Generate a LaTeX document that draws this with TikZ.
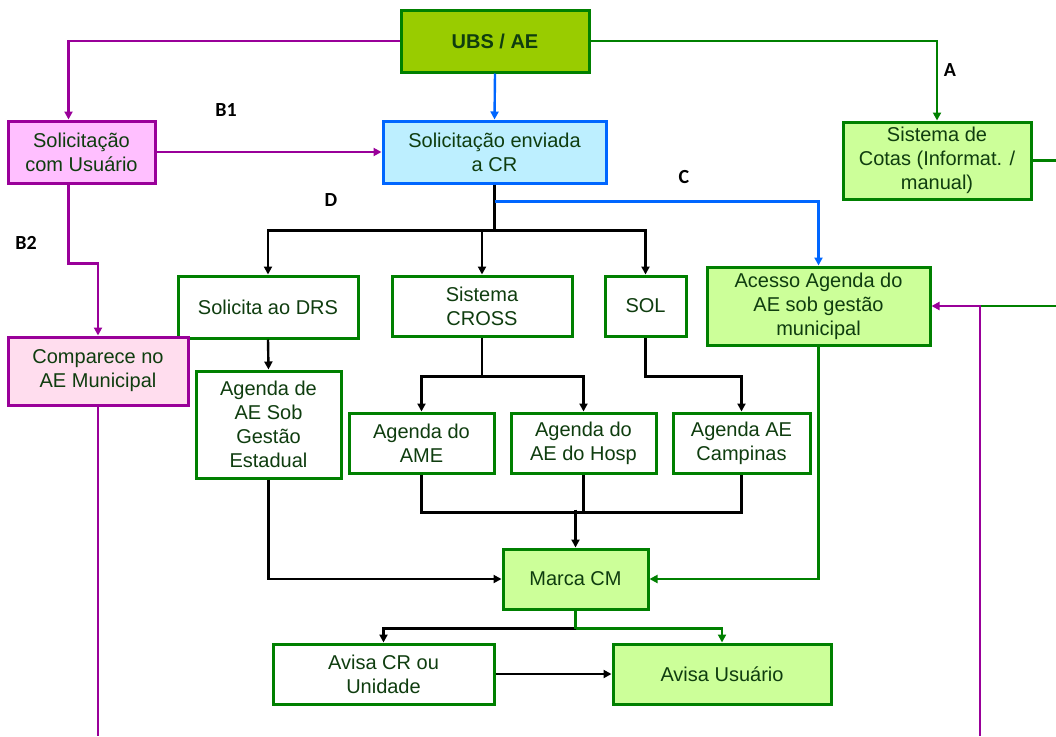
\documentclass[tikz,border=0pt]{standalone}
\usepackage{fontspec}
\setmainfont{Liberation Sans}
\newfontfamily\labelfont{Carlito}
\usetikzlibrary{
  arrows.meta,
  positioning,
  calc,
}
\definecolor{ink}{HTML}{0F3D0F}
\definecolor{tagInk}{HTML}{000000}
\definecolor{greenStroke}{HTML}{008000}
\definecolor{ubsFill}{HTML}{99CC00}
\definecolor{lightGreen}{HTML}{CCFF99}
\definecolor{crFill}{HTML}{BDEFFF}
\definecolor{crStroke}{HTML}{0066FF}
\definecolor{usrFill}{HTML}{FFBFFF}
\definecolor{aeFill}{HTML}{FFDDEE}
\definecolor{purpleStroke}{HTML}{990099}
\definecolor{blackLine}{HTML}{000000}
\tikzset{
  every node/.style={
    font=\fontsize{20}{24}\selectfont,
    text=ink,
    align=center,
    inner sep=2pt,
  },
  box/.style={
    rectangle,
    draw=greenStroke, line width=3pt,
    fill=white,
  },
  greenbox/.style={
    box, fill=lightGreen,
  },
  ubsbox/.style={
    box, fill=ubsFill,
    font=\fontsize{20}{24}\selectfont\bfseries,
  },
  crbox/.style={
    box, draw=crStroke, fill=crFill,
  },
  usrbox/.style={
    box, draw=purpleStroke, fill=usrFill,
  },
  aebox/.style={
    box, draw=purpleStroke, fill=aeFill,
  },
  tag/.style={
    font=\labelfont\fontsize{20}{24}\selectfont\bfseries,
    text=tagInk,
  },
  tip/.style={
    -{Triangle[length=8pt,width=8pt]},
  },
  kline/.style={draw=blackLine, line width=2.4pt},
  gline/.style={draw=greenStroke, line width=2.4pt},
  bline/.style={draw=crStroke, line width=2.4pt},
  pline/.style={draw=purpleStroke, line width=2.4pt},
  karrow/.style={kline, tip},
  garrow/.style={gline, tip},
  barrow/.style={bline, tip},
  parrow/.style={pline, tip},
}

\begin{document}
\begin{tikzpicture}[x=1pt, y=-1pt]

% ============================================
% Coordinate system (pt = px of the page): x in [0,1056], y top-down in [0,736]
% ============================================
\useasboundingbox (0,0) rectangle (1056,736);

% ----- Top -----
\node[ubsbox, minimum width=188, minimum height=62] (ubs) at (495,41) {UBS / AE};

% ----- Row 1: requests -----
\node[usrbox,   minimum width=147, minimum height=62] (solusr) at (81.5,152) {Solicitação\\com Usuário};
\node[crbox,    minimum width=223, minimum height=62] (solcr)  at (494.5,152) {Solicitação enviada\\a CR};
\node[greenbox, minimum width=188, minimum height=77] (cotas)  at (937,160.5) {Sistema de\\Cotas (Informat. /\\manual)};

% ----- Row 2: routes -----
\node[box,      minimum width=180, minimum height=62] (drs)    at (268,307) {Solicita ao DRS};
\node[box,      minimum width=180, minimum height=60] (cross)  at (482,306) {Sistema\\CROSS};
\node[box,      minimum width=81,  minimum height=60] (sol)    at (645.5,306) {SOL};
\node[greenbox, minimum width=223, minimum height=78] (acesso) at (818.5,306) {Acesso Agenda do\\AE sob gestão\\municipal};
\node[aebox,    minimum width=180, minimum height=68] (compar) at (98,371) {Comparece no\\AE Municipal};

% ----- Row 3: agendas -----
\node[box, minimum width=145, minimum height=107] (estad)    at (268.5,424.5) {Agenda de\\AE Sob\\Gestão\\Estadual};
\node[box, minimum width=145, minimum height=60]  (ame)      at (421.5,443) {Agenda do\\AME};
\node[box, minimum width=145, minimum height=60]  (hosp)     at (583.5,443) {Agenda do\\AE do Hosp};
\node[box, minimum width=137, minimum height=60]  (campinas) at (741.5,443) {Agenda AE\\Campinas};

% ----- Row 4: booking and notice -----
\node[greenbox, minimum width=145, minimum height=60] (marca) at (575.5,579) {Marca CM};
\node[box,      minimum width=221, minimum height=60] (avcr)  at (383.5,674) {Avisa CR ou\\Unidade};
\node[greenbox, minimum width=218, minimum height=60] (avusr) at (722,674) {Avisa Usuário};

% ----- Path tags -----
\node[tag] (taga)  at (950,70)  {A};
\node[tag] (tagb1) at (226,110) {B1};
\node[tag] (tagb2) at (26,243)  {B2};
\node[tag] (tagc)  at (684,177) {C};
\node[tag] (tagd)  at (331,200) {D};

% ----- Free ends at the page border -----
\coordinate (exitL)  at (98,736);
\coordinate (exitR)  at (1056,160.5);
\coordinate (entryR) at (1056,306);
\coordinate (entryB) at (980,736);
\coordinate (joinR)  at (980,306);

% ============================================
% Edges
% ============================================
% B: UBS -> request with user -> CR / AE municipal
\draw[parrow] (ubs.west) -| ($(solusr.north)+(-13,0)$);
\draw[parrow] (solusr.east) -- (solcr.west);
\draw[parrow] ($(solusr.south)+(-13,0)$) -- ++(0,79) -| (compar.north);
\draw[pline]  (compar.south) -- (exitL);

% UBS -> CR, A: UBS -> quotas
\draw[barrow] (ubs.south) -- (solcr.north);
\draw[garrow] (ubs.east) -| (cotas.north);
\draw[gline]  (cotas.east) -- (exitR);

% D: CR -> DRS / CROSS / SOL
\draw[kline]  (solcr.south) -- ++(0,46) coordinate (dsplit);
\draw[karrow] (dsplit) -| (drs.north);
\draw[karrow] (dsplit) -| (cross.north);
\draw[karrow] (dsplit) -| (sol.north);

% C: CR -> municipal agenda
\draw[barrow] ($(solcr.south)+(0,17)$) -| (acesso.north);

% routes -> agendas
\draw[karrow] (drs.south) -- (estad.north);
\draw[kline]  (cross.south) -- ++(0,39) coordinate (csplit);
\draw[karrow] (csplit) -| (ame.north);
\draw[karrow] (csplit) -| (hosp.north);
\draw[karrow] (sol.south) -- ++(0,39) -| (campinas.north);

% agendas -> Marca CM
\draw[kline]  (ame.south) -- ++(0,38) -| (campinas.south);
\draw[kline]  (hosp.south) -- ++(0,38);
\draw[karrow] ($(marca.north)+(0,-38)$) -- (marca.north);
\draw[karrow] (estad.south) |- (marca.west);
\draw[garrow] (acesso.south) |- (marca.east);

% Marca CM -> notices
\draw[karrow] ($(marca.south)+(0,18)$) -| (avcr.north);
\draw[gline]  (marca.south) -- ++(0,18);
\draw[garrow] ($(marca.south)+(0,18)$) -| (avusr.north);
\draw[karrow] (avcr.east) -- (avusr.west);

% returns from the right border
\draw[gline]  (entryR) -- (joinR);
\draw[parrow] (entryB) -- (joinR) -- (acesso.east);

\end{tikzpicture}
\end{document}
